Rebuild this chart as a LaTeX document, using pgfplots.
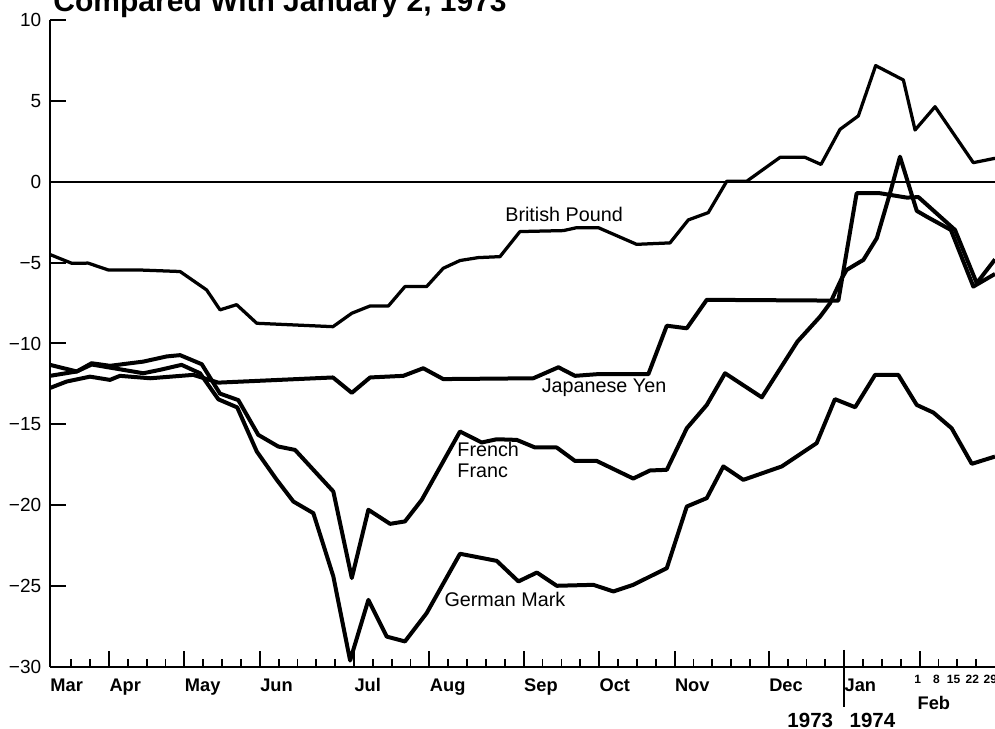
\documentclass[border=0pt]{standalone}
\usepackage{pgfplots}
\pgfplotsset{compat=1.18}
\usepackage{fontspec}
\setmainfont{Liberation Sans}

\pgfplotsset{series/.style={black, line width=1.6pt, line join=round, no marks}}
\tikzset{febday/.style={font=\bfseries\fontsize{4.8}{5}\selectfont, inner sep=0pt, yshift=-4.8pt}}

\begin{document}
\begin{tikzpicture}
\begin{axis}[
  scale only axis, width=378pt, height=258.8pt,
  xmin=-3.13, xmax=47, ymin=-30, ymax=10,
  axis lines*=left,
  axis line style={line width=0.8pt},
  clip mode=individual,
  tick align=inside,
  major tick length=6.5pt, minor tick length=3.2pt,
  tick style={black, line width=0.8pt},
  minor tick style={black, line width=0.7pt},
  xtick={-3.13,0,4,8,13,17,22,26,30,35,39,43},
  xticklabels={Mar,Apr,May,Jun,Jul,Aug,Sep,Oct,Nov,Dec,Jan,{}},
  minor xtick={-2,-1,1,2,3,5,6,7,9,10,11,12,14,15,16,18,19,20,21,23,24,25,27,28,29,31,32,33,34,36,37,38,40,41,42,44,45,46},
  xticklabel style={anchor=north west, inner sep=0pt, yshift=-4.4pt, font=\bfseries\fontsize{7.3}{8}\selectfont},
  ytick={-30,-25,-20,-15,-10,-5,0,5,10},
  yticklabels={−30,−25,−20,−15,−10,−5,0,5,10},
  yticklabel style={font=\fontsize{7.6}{8}\selectfont},
]
% zero reference line
\addplot[black, line width=0.9pt] coordinates {(-3.13,0) (47,0)};

% British Pound
\addplot[series, line width=1.3pt] table {
x y
-3.13 -4.5
-1.98 -5.04
-1.11 -5.03
-0.05 -5.45
1.49 -5.45
3.77 -5.55
5.18 -6.69
5.89 -7.92
6.77 -7.6
7.84 -8.75
11.88 -8.96
12.88 -8.13
13.85 -7.68
14.82 -7.68
15.70 -6.48
16.85 -6.48
17.73 -5.35
18.62 -4.87
19.59 -4.69
20.74 -4.63
21.80 -3.08
24.10 -3.02
24.81 -2.84
25.96 -2.84
27.99 -3.87
29.76 -3.78
30.73 -2.36
31.79 -1.91
32.77 0.03
33.83 0.03
35.60 1.51
36.92 1.51
37.77 1.07
38.78 3.24
39.75 4.07
40.67 7.18
42.14 6.29
42.76 3.2
43.82 4.64
45.85 1.18
47.0 1.45
};

% Japanese Yen
\addplot[series] table {
x y
-3.13 -12.75
-2.24 -12.35
-1.01 -12.05
0.05 -12.25
0.58 -12.0
2.18 -12.15
4.47 -11.94
5.80 -12.42
11.88 -12.1
12.88 -13.05
13.85 -12.1
15.61 -12.0
16.67 -11.53
17.73 -12.2
22.51 -12.15
23.84 -11.47
24.72 -12.0
25.87 -11.9
28.61 -11.9
29.59 -8.9
30.65 -9.06
31.71 -7.3
38.69 -7.35
39.66 -0.71
40.90 -0.71
42.32 -0.98
42.94 -0.95
44.88 -2.98
46.03 -6.27
47.0 -4.8
};

% French Franc
\addplot[series] table {
x y
-3.13 -12.0
-1.71 -11.73
-0.92 -11.22
0.05 -11.38
1.82 -11.12
3.06 -10.8
3.77 -10.72
4.92 -11.28
5.89 -13.1
6.86 -13.5
7.92 -15.65
8.98 -16.37
9.87 -16.58
11.90 -19.15
12.88 -24.5
13.76 -20.28
14.91 -21.15
15.70 -21.0
16.59 -19.67
18.62 -15.44
19.77 -16.12
20.57 -15.92
21.63 -15.96
22.60 -16.43
23.75 -16.43
24.72 -17.26
25.87 -17.26
27.81 -18.35
28.70 -17.85
29.59 -17.81
30.65 -15.24
31.71 -13.8
32.68 -11.84
34.63 -13.33
36.52 -9.88
37.72 -8.34
38.25 -7.51
38.87 -5.97
39.13 -5.45
40.02 -4.83
40.73 -3.49
41.43 -0.71
41.96 1.55
42.85 -1.8
43.38 -2.16
44.66 -2.98
45.85 -6.48
47.0 -5.7
};

% German Mark
\addplot[series] table {
x y
-3.13 -11.32
-1.71 -11.73
-0.92 -11.3
0.05 -11.49
1.82 -11.84
2.70 -11.63
3.85 -11.32
4.83 -11.84
5.80 -13.45
6.80 -13.95
7.84 -16.68
8.90 -18.43
9.78 -19.77
10.84 -20.49
11.90 -24.4
12.79 -29.6
13.76 -25.85
14.73 -28.12
15.70 -28.42
16.85 -26.67
18.62 -23.0
20.57 -23.44
21.72 -24.71
22.70 -24.16
23.75 -24.98
25.69 -24.92
26.76 -25.33
27.81 -24.92
29.59 -23.89
30.65 -20.08
31.71 -19.56
32.59 -17.6
33.65 -18.43
35.69 -17.6
37.54 -16.16
38.51 -13.44
39.58 -13.94
40.64 -11.94
41.87 -11.94
42.85 -13.8
43.73 -14.27
44.70 -15.24
45.77 -17.44
47.0 -16.99
};

% series labels
\node[font=\fontsize{7.9}{9.5}\selectfont] at (axis cs:24.14,-2.05) {British Pound};
\node[font=\fontsize{7.9}{9.5}\selectfont] at (axis cs:26.26,-12.74) {Japanese Yen};
\node[font=\fontsize{7.9}{8.6}\selectfont, anchor=west, align=left, inner sep=0pt] at (axis cs:18.46,-17.2) {French\\Franc};
\node[font=\fontsize{7.9}{9.5}\selectfont] at (axis cs:21.0,-25.85) {German Mark};

% year divider and extra axis labels
\draw[black, line width=0.9pt] ([yshift=6.8pt]axis cs:39,-30) -- ([yshift=-16pt]axis cs:39,-30);
\node[febday] at (axis cs:42.9,-30) {1};
\node[febday] at (axis cs:43.9,-30) {8};
\node[febday] at (axis cs:44.8,-30) {15};
\node[febday] at (axis cs:45.8,-30) {22};
\node[febday] at (axis cs:46.75,-30) {29};
\node[anchor=west, inner sep=0pt, yshift=-14.4pt, font=\bfseries\fontsize{7.3}{8}\selectfont] at (axis cs:42.87,-30) {Feb};
\node[inner sep=0pt, yshift=-21.2pt, font=\bfseries\fontsize{8.2}{9}\selectfont] at (axis cs:37.2,-30) {1973};
\node[inner sep=0pt, yshift=-21.2pt, font=\bfseries\fontsize{8.2}{9}\selectfont] at (axis cs:40.5,-30) {1974};
\end{axis}
\node[anchor=base west, inner sep=0pt, font=\bfseries\fontsize{12}{14}\selectfont] at ([xshift=1.2pt, yshift=3.2pt]current axis.north west) {Compared With January 2, 1973};
\pgfresetboundingbox
\path[use as bounding box] ([xshift=-20pt, yshift=-24.8pt]current axis.south west) rectangle ([yshift=8pt]current axis.north east);
\end{tikzpicture}
\end{document}
